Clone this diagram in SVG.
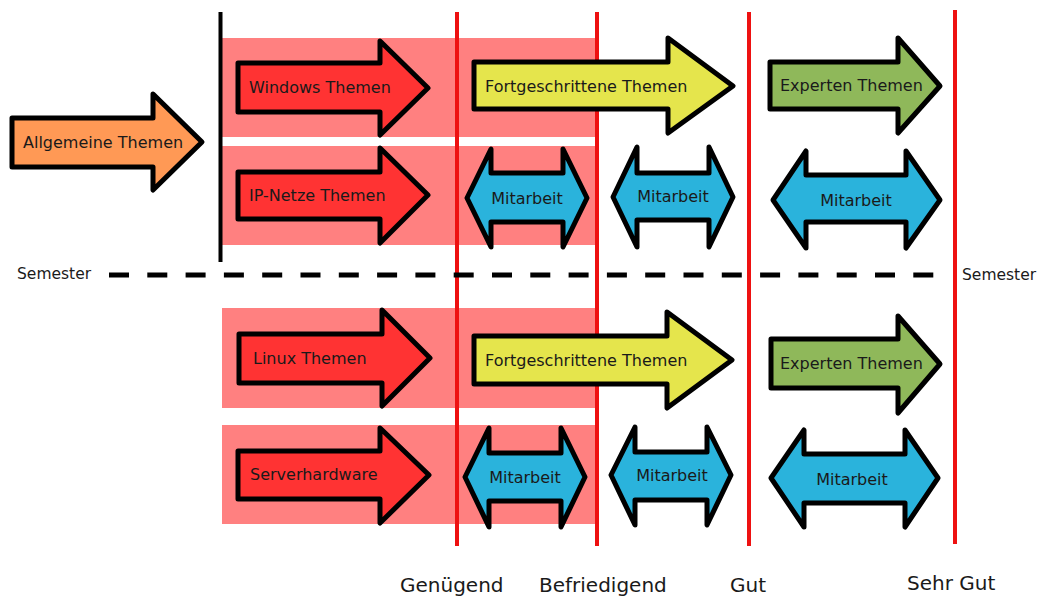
<svg xmlns="http://www.w3.org/2000/svg" width="1039" height="598" viewBox="0 0 1039 598">
<style>
.band{fill:#ff8080}
.grade{stroke:#ee1111;stroke-width:4;fill:none}
.arr{stroke:#000;stroke-width:5;stroke-linejoin:round}
.red{fill:#ff3333}
.orange{fill:#ff9955}
.yellow{fill:#e5e54c}
.green{fill:#8fb85a}
.blue{fill:#2ab3dc}
text{font-family:"DejaVu Sans","Liberation Sans",sans-serif;fill:#1a1a1a}
.lbl{font-size:16px}
.mid{text-anchor:middle}
.sem{font-size:15.5px}
.bot{font-size:20px}
</style>
<rect width="1039" height="598" fill="#fff"/>
<g id="bands">
<rect class="band" x="222" y="38" width="374" height="99"/>
<rect class="band" x="222" y="146" width="374" height="99"/>
<rect class="band" x="222" y="308" width="374" height="100"/>
<rect class="band" x="222" y="425" width="374" height="99"/>
</g>
<g id="grade-lines">
<line class="grade" x1="457" y1="12" x2="457" y2="546"/>
<line class="grade" x1="597" y1="12" x2="597" y2="546"/>
<line class="grade" x1="749" y1="12" x2="749" y2="546"/>
<line class="grade" x1="955" y1="10" x2="955" y2="544"/>
</g>
<g id="connectors">
<line x1="109" y1="275" x2="936" y2="275" stroke="#000" stroke-width="5" stroke-dasharray="20 18.3"/>
<line x1="220.5" y1="12" x2="220.5" y2="262" stroke="#000" stroke-width="4"/>
</g>
<g id="allgemeine">
<path class="arr orange" d="M12,118 H153 V94 L202,142 L153,190 V167 H12 Z"/>
<text class="lbl" x="23" y="148">Allgemeine Themen</text>
</g>
<g id="windows">
<path class="arr red" d="M238,63 H380 V41 L428,88 L380,135 V112 H238 Z"/>
<text class="lbl" x="249" y="93">Windows Themen</text>
</g>
<g id="ipnetze">
<path class="arr red" d="M238,172 H380 V148 L428,195 L380,243 V219 H238 Z"/>
<text class="lbl" x="249" y="201">IP-Netze Themen</text>
</g>
<g id="fort-top">
<path class="arr yellow" d="M474,62 H668 V38 L733,86 L668,133 V109 H474 Z"/>
<text class="lbl" x="485" y="92">Fortgeschrittene Themen</text>
</g>
<g id="exp-top">
<path class="arr green" d="M770,62 H898 V38 L940,86 L898,133 V109 H770 Z"/>
<text class="lbl" x="780" y="91">Experten Themen</text>
</g>
<g id="mit-top-1">
<path class="arr blue" d="M467,198 L491,149 V173 H563 V149 L587,198 L563,247 V222 H491 V247 Z"/>
<text class="lbl mid" x="527" y="204">Mitarbeit</text>
</g>
<g id="mit-top-2">
<path class="arr blue" d="M613,197 L637,147 V173 H709 V147 L733,197 L709,247 V220 H637 V247 Z"/>
<text class="lbl mid" x="673" y="202">Mitarbeit</text>
</g>
<g id="mit-top-3">
<path class="arr blue" d="M773,200 L806,151 V175 H906 V151 L940,200 L906,248 V222 H806 V248 Z"/>
<text class="lbl mid" x="856" y="206">Mitarbeit</text>
</g>
<g id="linux">
<path class="arr red" d="M239,334 H382 V310 L430,358 L382,406 V383 H239 Z"/>
<text class="lbl" x="253" y="364">Linux Themen</text>
</g>
<g id="server">
<path class="arr red" d="M238,451 H380 V428 L429,475 L380,523 V499 H238 Z"/>
<text class="lbl" x="250" y="480">Serverhardware</text>
</g>
<g id="fort-bot">
<path class="arr yellow" d="M474,336 H667 V312 L732,360 L667,408 V384 H474 Z"/>
<text class="lbl" x="485" y="366">Fortgeschrittene Themen</text>
</g>
<g id="exp-bot">
<path class="arr green" d="M771,339 H898 V316 L940,364 L898,413 V388 H771 Z"/>
<text class="lbl" x="780" y="369">Experten Themen</text>
</g>
<g id="mit-bot-1">
<path class="arr blue" d="M465,477 L489,428 V453 H561 V428 L585,477 L561,527 V501 H489 V527 Z"/>
<text class="lbl mid" x="525" y="483">Mitarbeit</text>
</g>
<g id="mit-bot-2">
<path class="arr blue" d="M611,475 L635,427 V452 H707 V427 L731,475 L707,525 V500 H635 V525 Z"/>
<text class="lbl mid" x="672" y="481">Mitarbeit</text>
</g>
<g id="mit-bot-3">
<path class="arr blue" d="M771,478 L804,430 V454 H905 V430 L938,478 L905,527 V503 H804 V527 Z"/>
<text class="lbl mid" x="852" y="485">Mitarbeit</text>
</g>
<g id="labels">
<text class="sem" x="17" y="279">Semester</text>
<text class="sem" x="962" y="280">Semester</text>
<text class="bot" x="400" y="592">Genügend</text>
<text class="bot" x="539" y="592">Befriedigend</text>
<text class="bot" x="730" y="592">Gut</text>
<text class="bot" x="907" y="590">Sehr Gut</text>
</g>
</svg>
